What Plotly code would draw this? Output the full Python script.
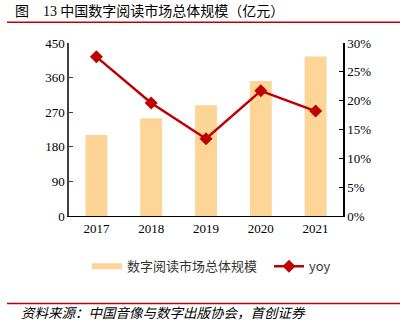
import plotly.graph_objects as go

years = ["2017", "2018", "2019", "2020", "2021"]
market_size = [211, 254, 288, 351, 415]
yoy = [27.6, 19.6, 13.4, 21.7, 18.2]
left_ticks = [0, 90, 180, 270, 360, 450]
right_ticks = [0, 5, 10, 15, 20, 25, 30]

W, H = 402, 322
L, R, T, B = 69, 343, 43.3, 215.7
pw, ph = R - L, B - T

def px(x):
    return (x - L) / pw

def py(y):
    return (B - y) / ph

serif = "Liberation Serif, Times New Roman, serif"
cjk = "Noto Sans CJK SC, sans-serif"
bar_color = "#FDD596"
line_color = "#C00000"

fig = go.Figure()
fig.add_trace(go.Bar(
    x=years, y=market_size, name="数字阅读市场总体规模",
    marker=dict(color=bar_color, line=dict(width=0)), width=0.4, yaxis="y",
    showlegend=False, legendgroup="bar",
))
# legend proxy for the bar series (wide swatch, as in the reference)
fig.add_trace(go.Scatter(
    x=[None], y=[None], name="数字阅读市场总体规模", mode="lines",
    line=dict(color=bar_color, width=6), legendgroup="bar", legendwidth=137,
    hoverinfo="skip",
))
fig.add_trace(go.Scatter(
    x=years, y=yoy, name="yoy", mode="lines+markers", yaxis="y2",
    line=dict(color=line_color, width=2.5),
    marker=dict(symbol="diamond", size=10, color=line_color),
))

fig.update_layout(
    width=W, height=H,
    margin=dict(l=L, r=W - R, t=T, b=H - B),
    paper_bgcolor="white", plot_bgcolor="white",
    showlegend=True,
    xaxis=dict(
        type="category", showline=True, linecolor="#000000", linewidth=1,
        ticks="", tickfont=dict(family=serif, size=13, color="#000"),
        showgrid=False, fixedrange=True,
    ),
    yaxis=dict(
        range=[0, 450], tickvals=left_ticks, ticktext=[str(v) for v in left_ticks],
        showline=True, linecolor="#404040", linewidth=1.5, ticks="inside", ticklen=4,
        tickcolor="#404040", showgrid=False, zeroline=False,
        tickfont=dict(family=serif, size=13, color="#000"),
    ),
    yaxis2=dict(
        range=[0, 30], overlaying="y", side="right", tickvals=right_ticks,
        ticktext=[f"{v}%" for v in right_ticks],
        showline=True, linecolor="#000000", linewidth=1.5, ticks="inside", ticklen=4,
        tickcolor="#000", showgrid=False, zeroline=False,
        tickfont=dict(family=serif, size=13, color="#000"),
    ),
    legend=dict(
        orientation="h", x=px(87), y=py(251), xanchor="left", yanchor="top",
        font=dict(family=cjk, size=13, color="#333"),
        tracegroupgap=0, bgcolor="rgba(0,0,0,0)",
    ),
)

fig.add_annotation(
    text="图\u2003<span style=\"font-family:Liberation Serif\">13</span> 中国数字阅读市场总体规模（亿元）",
    xref="paper", yref="paper",
    x=px(13), y=py(10), xanchor="left", yanchor="middle", showarrow=False,
    font=dict(family=cjk, size=14, color="#000"),
)
fig.add_annotation(
    text="资料来源：中国音像与数字出版协会，首创证券", xref="paper", yref="paper",
    x=px(19), y=py(311.5), xanchor="left", yanchor="middle", showarrow=False,
    font=dict(family=cjk, size=13.5, color="#000", style="italic"),
)
fig.add_shape(type="line", xref="paper", yref="paper",
              x0=px(7), x1=px(400), y0=py(22.5), y1=py(22.5),
              line=dict(color=line_color, width=1.5))
fig.add_shape(type="line", xref="paper", yref="paper",
              x0=px(7), x1=px(400), y0=py(303), y1=py(303),
              line=dict(color=line_color, width=1.5))

fig.write_html("out.html")
